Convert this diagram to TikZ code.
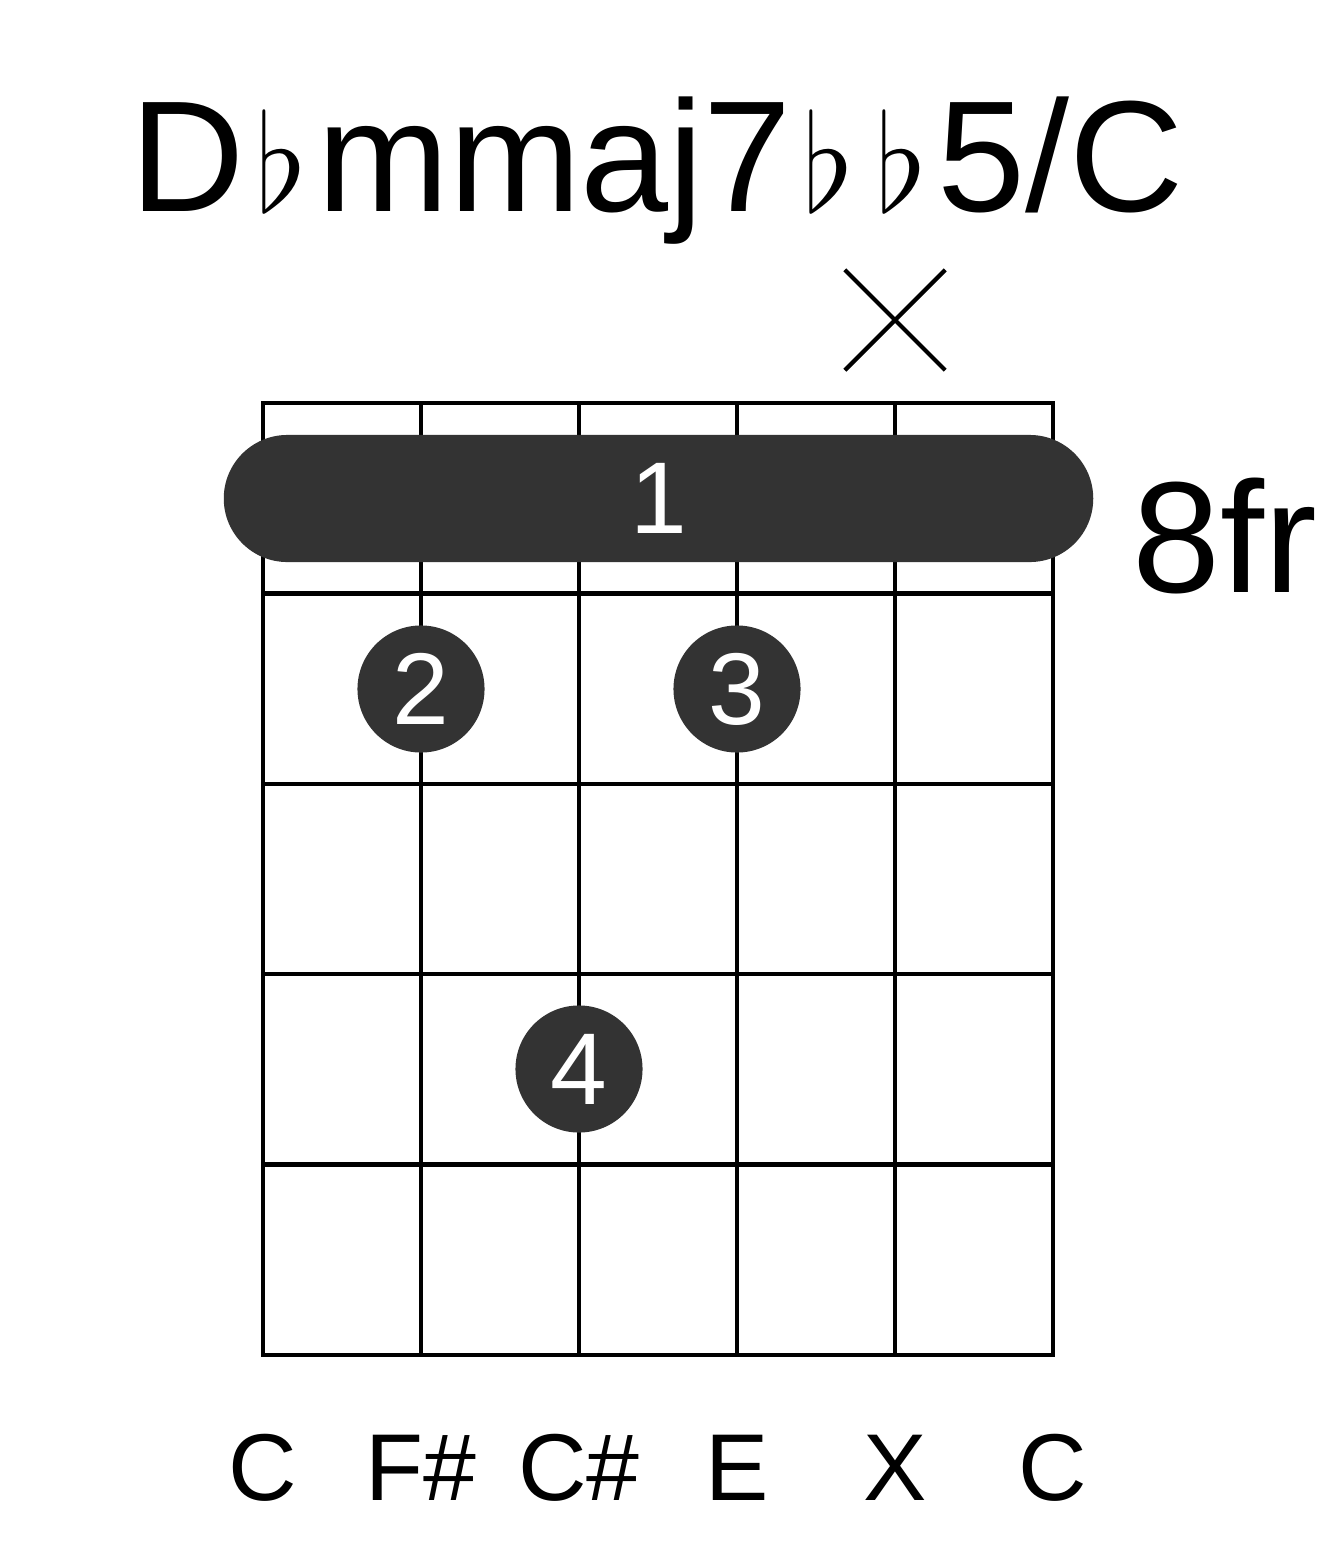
\documentclass[tikz,border=0pt]{standalone}
\usepackage{fontspec}
\setmainfont{Liberation Sans}
\usetikzlibrary{positioning, shapes.misc}
\definecolor{dotgray}{HTML}{333333}
\newcommand{\flt}{\hspace{3pt}\scalebox{1.55}{\(\flat\)}\hspace{3pt}}

\begin{document}
\begin{tikzpicture}[
    x=0.01cm, y=-0.01cm, % one unit per pixel, y downwards
    grid/.style={line width=1.3pt, line cap=rect},
    fingerdot/.style={circle, fill=dotgray, text=white, minimum size=1.27cm,
        inner sep=0pt, font=\fontsize{29}{30}\selectfont},
    barre/.style={fill=dotgray, text=white, rounded corners=0.635cm,
        minimum width=8.69cm, minimum height=1.27cm, inner sep=0pt,
        font=\fontsize{29}{30}\selectfont},
    mute/.style={cross out, draw, line width=1.2pt, minimum size=0.96cm, inner sep=0pt},
    bigtext/.style={inner sep=0pt, font=\fontsize{45}{54}\selectfont},
    stringname/.style={anchor=base, inner sep=0pt, font=\fontsize{27}{32}\selectfont}
]
    \useasboundingbox (0,0) rectangle (1317,1551);

    % chord name
    \node[bigtext, anchor=base] (chord) at (657,211) {D\flt mmaj7\flt\flt 5/C};

    % strings and frets
    \foreach \x in {263,421,579,737,895,1053}
        \draw[grid] (\x,403) -- (\x,1355);
    \foreach \i in {0,...,5}
        \draw[grid] (263,{403+190.4*\i}) -- (1053,{403+190.4*\i});

    % muted string
    \node[mute] (mute) at (895,320) {};

    % fingers
    \node[barre] (barre) at (658.5,498.5) {1};
    \node[fingerdot] (f2) at (421,689) {2};
    \node[fingerdot] (f3) at (737,689) {3};
    \node[fingerdot] (f4) at (579,1069) {4};

    % fret number
    \node[bigtext, anchor=base west] (fret) at (1132,592) {8fr};

    % note names
    \foreach \x/\t [count=\i] in {263/C, 421/F\#, 579/C\#, 737/E, 895/X, 1053/C}
        \node[stringname] (s\i) at (\x,1500) {\t};
\end{tikzpicture}
\end{document}
